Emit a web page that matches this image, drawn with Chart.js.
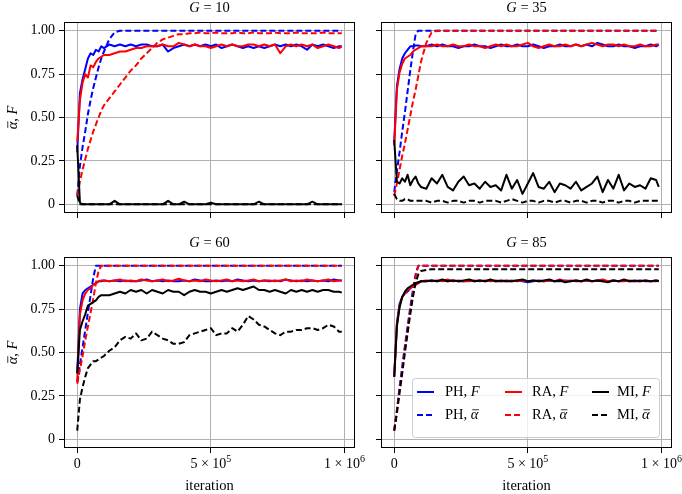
<!DOCTYPE html>
<html>
<head>
<meta charset="utf-8">
<script src="https://cdn.jsdelivr.net/npm/chart.js@4.4.1/dist/chart.umd.min.js"></script>
<style>
  body { margin: 0; background: #fff; }
  #wrap { position: relative; width: 682px; height: 494px; }
  canvas { position: absolute; left: 0; top: 0; }
</style>
</head>
<body>
<div id="wrap">
  <canvas id="g10" width="682" height="494"></canvas>
  <canvas id="g35" width="682" height="494"></canvas>
  <canvas id="g60" width="682" height="494"></canvas>
  <canvas id="g85" width="682" height="494"></canvas>
</div>
<script>
// iterations (x values shared by every series)
const X = [0, 10000, 20000, 30000, 40000, 50000, 60000, 70000, 80000, 90000, 100000,
  120000, 140000, 160000, 180000, 200000, 220000, 240000, 260000, 280000, 300000,
  320000, 340000, 360000, 380000, 400000, 420000, 440000, 460000, 480000, 500000,
  520000, 540000, 560000, 580000, 600000, 620000, 640000, 660000, 680000, 700000,
  720000, 740000, 760000, 780000, 800000, 820000, 840000, 860000, 880000, 900000,
  920000, 940000, 960000, 980000, 990000];

// x tick labels as mantissa + power of ten
const xTicks = [0, 500000, 1000000];
const xTickBase = ["0", "5 × 10", "1 × 10"];
const xTickPow = ["", "5", "6"];
const yTicks = [0, 0.25, 0.5, 0.75, 1];
const yTickLabels = ["0", "0.25", "0.50", "0.75", "1.00"];

// G = 10
const g10PhF = [0.30, 0.64, 0.72, 0.78, 0.84, 0.87, 0.86, 0.89, 0.88, 0.91, 0.90,
  0.92, 0.91, 0.92, 0.91, 0.92, 0.91, 0.92, 0.92, 0.91, 0.91,
  0.92, 0.88, 0.90, 0.91, 0.92, 0.91, 0.92, 0.91, 0.92, 0.91,
  0.92, 0.90, 0.91, 0.92, 0.91, 0.90, 0.91, 0.90, 0.91, 0.90,
  0.91, 0.92, 0.91, 0.92, 0.91, 0.92, 0.91, 0.89, 0.92, 0.91,
  0.92, 0.91, 0.90, 0.91, 0.91];
const g10PhA = [0.05, 0.22, 0.33, 0.42, 0.52, 0.60, 0.67, 0.73, 0.79, 0.84, 0.88,
  0.95, 0.99, 1, 1, 1, 1, 1, 1, 1, 1,
  1, 1, 1, 1, 1, 1, 1, 1, 1, 1,
  1, 1, 1, 1, 1, 1, 1, 1, 1, 1,
  1, 1, 1, 1, 1, 1, 1, 1, 1, 1,
  1, 1, 1, 1, 1];
const g10RaF = [0.36, 0.60, 0.70, 0.75, 0.73, 0.80, 0.79, 0.82, 0.84, 0.85, 0.86,
  0.86, 0.87, 0.88, 0.88, 0.89, 0.90, 0.90, 0.91, 0.91, 0.91,
  0.92, 0.91, 0.91, 0.93, 0.92, 0.91, 0.92, 0.91, 0.91, 0.90,
  0.91, 0.92, 0.91, 0.92, 0.91, 0.91, 0.92, 0.92, 0.91, 0.92,
  0.91, 0.92, 0.87, 0.91, 0.92, 0.91, 0.92, 0.91, 0.92, 0.90,
  0.91, 0.92, 0.91, 0.90, 0.91];
const g10RaA = [0.05, 0.13, 0.20, 0.26, 0.32, 0.37, 0.42, 0.46, 0.50, 0.54, 0.57,
  0.61, 0.65, 0.69, 0.73, 0.77, 0.80, 0.84, 0.87, 0.90, 0.93,
  0.95, 0.96, 0.97, 0.98, 0.98, 0.985, 0.985, 0.99, 0.985, 0.985,
  0.99, 0.985, 0.985, 0.985, 0.99, 0.985, 0.985, 0.99, 0.985, 0.985,
  0.985, 0.99, 0.985, 0.985, 0.985, 0.99, 0.985, 0.985, 0.985, 0.985,
  0.99, 0.985, 0.985, 0.985, 0.985];
const g10MiF = [0.34, 0.01, 0, 0, 0, 0, 0, 0, 0, 0, 0,
  0, 0.02, 0, 0, 0, 0, 0, 0, 0, 0,
  0, 0.02, 0, 0, 0.015, 0, 0, 0, 0, 0.01,
  0, 0, 0, 0, 0, 0, 0, 0, 0.015, 0,
  0, 0, 0, 0, 0, 0, 0, 0, 0.015, 0,
  0, 0, 0, 0, 0];
const g10MiA = [0.05, 0, 0, 0, 0, 0, 0, 0, 0, 0, 0,
  0, 0, 0, 0, 0, 0, 0, 0, 0, 0,
  0, 0, 0, 0, 0, 0, 0, 0, 0, 0,
  0, 0, 0, 0, 0, 0, 0, 0, 0, 0,
  0, 0, 0, 0, 0, 0, 0, 0, 0, 0,
  0, 0, 0, 0, 0];

// G = 35
const g35PhF = [0.36, 0.68, 0.78, 0.84, 0.87, 0.89, 0.91, 0.91, 0.915, 0.915, 0.91,
  0.91, 0.92, 0.91, 0.92, 0.91, 0.91, 0.90, 0.91, 0.91, 0.92,
  0.91, 0.91, 0.90, 0.91, 0.92, 0.91, 0.91, 0.92, 0.91, 0.91,
  0.92, 0.91, 0.90, 0.91, 0.91, 0.92, 0.91, 0.91, 0.92, 0.91,
  0.92, 0.91, 0.93, 0.92, 0.91, 0.91, 0.92, 0.91, 0.91, 0.90,
  0.91, 0.91, 0.92, 0.91, 0.92];
const g35PhA = [0.07, 0.19, 0.30, 0.42, 0.53, 0.65, 0.77, 0.88, 0.98, 1, 1,
  1, 1, 1, 1, 1, 1, 1, 1, 1, 1,
  1, 1, 1, 1, 1, 1, 1, 1, 1, 1,
  1, 1, 1, 1, 1, 1, 1, 1, 1, 1,
  1, 1, 1, 1, 1, 1, 1, 1, 1, 1,
  1, 1, 1, 1, 1];
const g35RaF = [0.34, 0.66, 0.76, 0.81, 0.84, 0.85, 0.86, 0.88, 0.89, 0.90, 0.91,
  0.91, 0.91, 0.92, 0.91, 0.91, 0.92, 0.91, 0.91, 0.92, 0.91,
  0.91, 0.90, 0.91, 0.92, 0.91, 0.92, 0.91, 0.91, 0.92, 0.93,
  0.91, 0.90, 0.91, 0.92, 0.91, 0.91, 0.92, 0.91, 0.92, 0.91,
  0.92, 0.93, 0.92, 0.91, 0.92, 0.92, 0.91, 0.92, 0.91, 0.91,
  0.92, 0.91, 0.91, 0.92, 0.92];
const g35RaA = [0.05, 0.12, 0.20, 0.28, 0.35, 0.43, 0.51, 0.59, 0.66, 0.74, 0.82,
  0.93, 0.99, 1, 1, 1, 1, 1, 1, 1, 1,
  1, 1, 1, 1, 1, 1, 1, 1, 1, 1,
  1, 1, 1, 1, 1, 1, 1, 1, 1, 1,
  1, 1, 1, 1, 1, 1, 1, 1, 1, 1,
  1, 1, 1, 1, 1];
const g35MiF = [0.37, 0.13, 0.12, 0.15, 0.13, 0.17, 0.11, 0.14, 0.16, 0.12, 0.10,
  0.09, 0.15, 0.12, 0.17, 0.10, 0.08, 0.13, 0.16, 0.11, 0.12,
  0.09, 0.13, 0.10, 0.11, 0.08, 0.17, 0.09, 0.14, 0.06, 0.12,
  0.18, 0.10, 0.09, 0.13, 0.07, 0.12, 0.11, 0.09, 0.13, 0.08,
  0.10, 0.12, 0.16, 0.07, 0.14, 0.09, 0.17, 0.08, 0.12, 0.10,
  0.11, 0.09, 0.15, 0.14, 0.10];
const g35MiA = [0.06, 0.03, 0.02, 0.02, 0.03, 0.03, 0.02, 0.02, 0.02, 0.02, 0.02,
  0.02, 0.01, 0.02, 0.02, 0.01, 0.02, 0.02, 0.01, 0.02, 0.02,
  0.01, 0.02, 0.02, 0.02, 0.01, 0.02, 0.03, 0.02, 0.01, 0.02,
  0.02, 0.01, 0.02, 0.02, 0.01, 0.02, 0.02, 0.01, 0.02, 0.02,
  0.01, 0.02, 0.02, 0.01, 0.02, 0.02, 0.01, 0.02, 0.02, 0.01,
  0.02, 0.02, 0.02, 0.02, 0.02];

// G = 60
const g60PhF = [0.38, 0.75, 0.84, 0.86, 0.87, 0.88, 0.89, 0.90, 0.91, 0.91, 0.915,
  0.91, 0.915, 0.91, 0.915, 0.91, 0.91, 0.915, 0.92, 0.91, 0.915,
  0.91, 0.915, 0.91, 0.91, 0.915, 0.91, 0.92, 0.915, 0.91, 0.91,
  0.915, 0.91, 0.915, 0.91, 0.92, 0.915, 0.91, 0.915, 0.91, 0.915,
  0.91, 0.915, 0.91, 0.92, 0.915, 0.91, 0.915, 0.91, 0.915, 0.91,
  0.915, 0.91, 0.92, 0.915, 0.915];
const g60PhA = [0.33, 0.43, 0.53, 0.63, 0.73, 0.83, 0.93, 1, 1, 1, 1,
  1, 1, 1, 1, 1, 1, 1, 1, 1, 1,
  1, 1, 1, 1, 1, 1, 1, 1, 1, 1,
  1, 1, 1, 1, 1, 1, 1, 1, 1, 1,
  1, 1, 1, 1, 1, 1, 1, 1, 1, 1,
  1, 1, 1, 1, 1];
const g60RaF = [0.33, 0.72, 0.80, 0.84, 0.86, 0.87, 0.89, 0.90, 0.91, 0.915, 0.915,
  0.91, 0.915, 0.92, 0.91, 0.915, 0.91, 0.92, 0.915, 0.91, 0.915,
  0.92, 0.91, 0.915, 0.925, 0.915, 0.91, 0.915, 0.91, 0.92, 0.915,
  0.91, 0.915, 0.92, 0.91, 0.915, 0.91, 0.915, 0.92, 0.91, 0.915,
  0.915, 0.91, 0.915, 0.92, 0.91, 0.915, 0.91, 0.92, 0.915, 0.91,
  0.915, 0.92, 0.91, 0.915, 0.915];
const g60RaA = [0.32, 0.40, 0.48, 0.57, 0.65, 0.73, 0.81, 0.90, 0.97, 1, 1,
  1, 1, 1, 1, 1, 1, 1, 1, 1, 1,
  1, 1, 1, 1, 1, 1, 1, 1, 1, 1,
  1, 1, 1, 1, 1, 1, 1, 1, 1, 1,
  1, 1, 1, 1, 1, 1, 1, 1, 1, 1,
  1, 1, 1, 1, 1];
const g60MiF = [0.38, 0.63, 0.68, 0.72, 0.77, 0.78, 0.79, 0.80, 0.82, 0.83, 0.83,
  0.83, 0.84, 0.85, 0.84, 0.86, 0.85, 0.86, 0.84, 0.86, 0.85,
  0.84, 0.86, 0.85, 0.85, 0.83, 0.85, 0.86, 0.85, 0.85, 0.84,
  0.85, 0.86, 0.85, 0.86, 0.87, 0.86, 0.87, 0.88, 0.86, 0.86,
  0.85, 0.86, 0.85, 0.84, 0.86, 0.85, 0.86, 0.85, 0.86, 0.85,
  0.86, 0.86, 0.85, 0.85, 0.845];
const g60MiA = [0.05, 0.23, 0.30, 0.36, 0.41, 0.43, 0.45, 0.45, 0.46, 0.47, 0.48,
  0.51, 0.53, 0.57, 0.59, 0.58, 0.61, 0.57, 0.58, 0.62, 0.60,
  0.58, 0.57, 0.55, 0.55, 0.56, 0.60, 0.61, 0.62, 0.63, 0.64,
  0.60, 0.61, 0.61, 0.64, 0.62, 0.66, 0.71, 0.69, 0.66, 0.65,
  0.63, 0.61, 0.60, 0.62, 0.62, 0.63, 0.63, 0.64, 0.64, 0.63,
  0.64, 0.66, 0.65, 0.62, 0.62];

// G = 85
const g85PhF = [0.36, 0.67, 0.78, 0.82, 0.84, 0.85, 0.87, 0.88, 0.89, 0.90, 0.91,
  0.91, 0.915, 0.91, 0.915, 0.91, 0.915, 0.91, 0.91, 0.915, 0.91,
  0.915, 0.91, 0.915, 0.91, 0.91, 0.915, 0.91, 0.915, 0.91, 0.905,
  0.91, 0.915, 0.91, 0.915, 0.91, 0.91, 0.915, 0.91, 0.915, 0.91,
  0.915, 0.91, 0.915, 0.91, 0.91, 0.915, 0.91, 0.915, 0.91, 0.91,
  0.915, 0.91, 0.91, 0.915, 0.91];
const g85PhA = [0.05, 0.17, 0.30, 0.42, 0.54, 0.65, 0.76, 0.86, 0.95, 1, 1,
  1, 1, 1, 1, 1, 1, 1, 1, 1, 1,
  1, 1, 1, 1, 1, 1, 1, 1, 1, 1,
  1, 1, 1, 1, 1, 1, 1, 1, 1, 1,
  1, 1, 1, 1, 1, 1, 1, 1, 1, 1,
  1, 1, 1, 1, 1];
const g85RaF = [0.36, 0.66, 0.77, 0.82, 0.84, 0.86, 0.87, 0.88, 0.89, 0.90, 0.91,
  0.915, 0.91, 0.915, 0.91, 0.92, 0.91, 0.915, 0.91, 0.91, 0.915,
  0.91, 0.915, 0.91, 0.915, 0.91, 0.91, 0.915, 0.91, 0.915, 0.91,
  0.915, 0.91, 0.91, 0.915, 0.91, 0.92, 0.91, 0.915, 0.91, 0.91,
  0.915, 0.91, 0.915, 0.92, 0.91, 0.915, 0.91, 0.91, 0.915, 0.91,
  0.91, 0.915, 0.91, 0.91, 0.915];
const g85RaA = [0.05, 0.16, 0.28, 0.40, 0.52, 0.63, 0.74, 0.84, 0.94, 1, 1,
  1, 1, 1, 1, 1, 1, 1, 1, 1, 1,
  1, 1, 1, 1, 1, 1, 1, 1, 1, 1,
  1, 1, 1, 1, 1, 1, 1, 1, 1, 1,
  1, 1, 1, 1, 1, 1, 1, 1, 1, 1,
  1, 1, 1, 1, 1];
const g85MiF = [0.36, 0.65, 0.76, 0.82, 0.85, 0.87, 0.88, 0.89, 0.90, 0.905, 0.91,
  0.91, 0.915, 0.91, 0.92, 0.91, 0.915, 0.91, 0.915, 0.92, 0.91,
  0.915, 0.91, 0.92, 0.91, 0.915, 0.91, 0.91, 0.915, 0.92, 0.91,
  0.915, 0.91, 0.915, 0.92, 0.91, 0.915, 0.905, 0.91, 0.915, 0.91,
  0.92, 0.91, 0.915, 0.91, 0.905, 0.915, 0.91, 0.92, 0.91, 0.915,
  0.91, 0.915, 0.91, 0.915, 0.91];
const g85MiA = [0.05, 0.15, 0.27, 0.38, 0.50, 0.61, 0.72, 0.82, 0.90, 0.95, 0.97,
  0.975, 0.98, 0.98, 0.98, 0.98, 0.98, 0.98, 0.98, 0.98, 0.98,
  0.98, 0.98, 0.98, 0.98, 0.98, 0.98, 0.98, 0.98, 0.98, 0.98,
  0.98, 0.98, 0.98, 0.98, 0.98, 0.98, 0.98, 0.98, 0.98, 0.98,
  0.98, 0.98, 0.98, 0.98, 0.98, 0.98, 0.98, 0.98, 0.98, 0.98,
  0.98, 0.98, 0.98, 0.98, 0.98];

const BLUE = "#0000ff";
const RED = "#ff0000";
const BLACK = "#000000";
const FONT = "'Liberation Serif', 'Times New Roman', serif";
const W = 682, H = 494;

// draws a run of text pieces, some italic, some with a bar (alpha-bar), some raised
function drawParts(ctx, parts, x, y, size, align) {
  let total = 0;
  parts.forEach((p) => {
    ctx.font = (p.it ? "italic " : "") + (p.size || size) + "px " + FONT;
    p.w = ctx.measureText(p.t).width;
    total += p.w;
  });
  let cx = align === "left" ? x : x - total / 2;
  ctx.textAlign = "left";
  ctx.textBaseline = "middle";
  ctx.fillStyle = "#000";
  parts.forEach((p) => {
    ctx.font = (p.it ? "italic " : "") + (p.size || size) + "px " + FONT;
    ctx.fillText(p.t, cx, y - (p.rise || 0));
    if (p.bar) {
      ctx.beginPath();
      ctx.strokeStyle = "#000";
      ctx.lineWidth = 0.8;
      ctx.setLineDash([]);
      ctx.moveTo(cx + 1.5, y - size * 0.36);
      ctx.lineTo(cx + p.w + 0.5, y - size * 0.36);
      ctx.stroke();
    }
    cx += p.w;
  });
}

const alphaBar = () => ({ t: "α", it: true, bar: true });

function drawLegend(ctx) {
  ctx.save();
  ctx.beginPath();
  ctx.roundRect(412.5, 378.5, 247, 59, 3);
  ctx.fillStyle = "rgba(255,255,255,0.8)";
  ctx.fill();
  ctx.strokeStyle = "#cccccc";
  ctx.lineWidth = 1;
  ctx.stroke();
  const names = ["PH", "RA", "MI"];
  const colors = [BLUE, RED, BLACK];
  const handleX = [417, 505, 592];
  const textX = [445, 532, 617];
  const rowY = [392, 415];
  names.forEach((n, i) => {
    rowY.forEach((y, r) => {
      ctx.beginPath();
      ctx.strokeStyle = colors[i];
      ctx.lineWidth = 2;
      ctx.setLineDash(r === 0 ? [] : [6, 3]);
      ctx.moveTo(handleX[i], y);
      ctx.lineTo(handleX[i] + 17, y);
      ctx.stroke();
      ctx.setLineDash([]);
      const last = r === 0 ? { t: "F", it: true } : alphaBar();
      drawParts(ctx, [{ t: n + ", " }, last], textX[i], y, 14.5, "left");
    });
  });
  ctx.restore();
}

const decor = {
  id: "decor",
  afterDraw(chart, args, opts) {
    const ctx = chart.ctx;
    const a = chart.chartArea;
    ctx.save();
    ctx.setLineDash([]);
    ctx.strokeStyle = "#000";
    ctx.lineWidth = 1;
    ctx.strokeRect(a.left + 0.5, a.top + 0.5, a.width - 1, a.height - 1);
    const mid = (a.left + a.right) / 2;
    drawParts(ctx, [{ t: "G", it: true }, { t: " = " + opts.g }], mid, a.top - 14, 14.5, "center");
    if (opts.yTitle) {
      ctx.save();
      ctx.translate(13, (a.top + a.bottom) / 2);
      ctx.rotate(-Math.PI / 2);
      drawParts(ctx, [alphaBar(), { t: ", " }, { t: "F", it: true }], 0, 0, 14.5, "center");
      ctx.restore();
    }
    if (opts.xTitle) {
      // x tick labels with a raised exponent
      const sx = chart.scales.x;
      xTicks.forEach((v, i) => {
        const parts = [{ t: xTickBase[i] }];
        if (xTickPow[i]) parts.push({ t: xTickPow[i], size: 10, rise: 5 });
        drawParts(ctx, parts, sx.getPixelForValue(v), 464, 14, "center");
      });
      drawParts(ctx, [{ t: "iteration" }], mid, 486, 14.5, "center");
    }
    if (opts.legend) drawLegend(ctx);
    ctx.restore();
  },
};

function makePanel(id, area, g, series, opt) {
  const axisGrid = { color: "#b0b0b0", lineWidth: 1, tickColor: "#000", tickLength: 5 };
  const tickFont = { family: FONT, size: 14 };
  return new Chart(document.getElementById(id), {
    type: "line",
    data: {
      datasets: series.map((s, i) => ({
        data: X.map((x, j) => ({ x: x, y: s.values[j] })),
        borderColor: s.color,
        borderWidth: 2,
        borderDash: s.dashed ? [6, 3] : [],
        borderJoinStyle: "round",
        pointRadius: 0,
        tension: 0,
        fill: false,
        order: series.length - i,
      })),
    },
    options: {
      responsive: false,
      animation: false,
      devicePixelRatio: 1,
      layout: { padding: { left: area.l - 50, top: area.t, right: W - area.r, bottom: H - area.b - 30 } },
      scales: {
        x: {
          type: "linear",
          min: -49500,
          max: 1039500,
          afterBuildTicks: (s) => { s.ticks = xTicks.map((v) => ({ value: v })); },
          afterFit: (s) => { s.height = 30; },
          grid: axisGrid,
          border: { display: false },
          ticks: { display: false },
        },
        y: {
          type: "linear",
          min: -0.05,
          max: 1.05,
          afterBuildTicks: (s) => { s.ticks = yTicks.map((v) => ({ value: v })); },
          afterFit: (s) => { s.width = 50; },
          grid: axisGrid,
          border: { display: false },
          ticks: {
            display: opt.yLabels, autoSkip: false, padding: 4,
            color: "#000", font: tickFont,
            callback: (v, i) => yTickLabels[i],
          },
        },
      },
      plugins: {
        legend: { display: false },
        tooltip: { enabled: false },
        decor: { g: g, yTitle: opt.yLabels, xTitle: opt.xLabels, legend: opt.legend },
      },
    },
    plugins: [decor],
  });
}

function seriesOf(phF, phA, raF, raA, miF, miA) {
  return [
    { values: phF, color: BLUE },
    { values: phA, color: BLUE, dashed: true },
    { values: raF, color: RED },
    { values: raA, color: RED, dashed: true },
    { values: miF, color: BLACK },
    { values: miA, color: BLACK, dashed: true },
  ];
}

makePanel("g10", { l: 64, t: 22, r: 355, b: 213 }, 10,
  seriesOf(g10PhF, g10PhA, g10RaF, g10RaA, g10MiF, g10MiA),
  { xLabels: false, yLabels: true, legend: false });
makePanel("g35", { l: 381, t: 22, r: 672, b: 213 }, 35,
  seriesOf(g35PhF, g35PhA, g35RaF, g35RaA, g35MiF, g35MiA),
  { xLabels: false, yLabels: false, legend: false });
makePanel("g60", { l: 64, t: 257, r: 355, b: 448 }, 60,
  seriesOf(g60PhF, g60PhA, g60RaF, g60RaA, g60MiF, g60MiA),
  { xLabels: true, yLabels: true, legend: false });
makePanel("g85", { l: 381, t: 257, r: 672, b: 448 }, 85,
  seriesOf(g85PhF, g85PhA, g85RaF, g85RaA, g85MiF, g85MiA),
  { xLabels: true, yLabels: false, legend: true });
</script>
</body>
</html>
